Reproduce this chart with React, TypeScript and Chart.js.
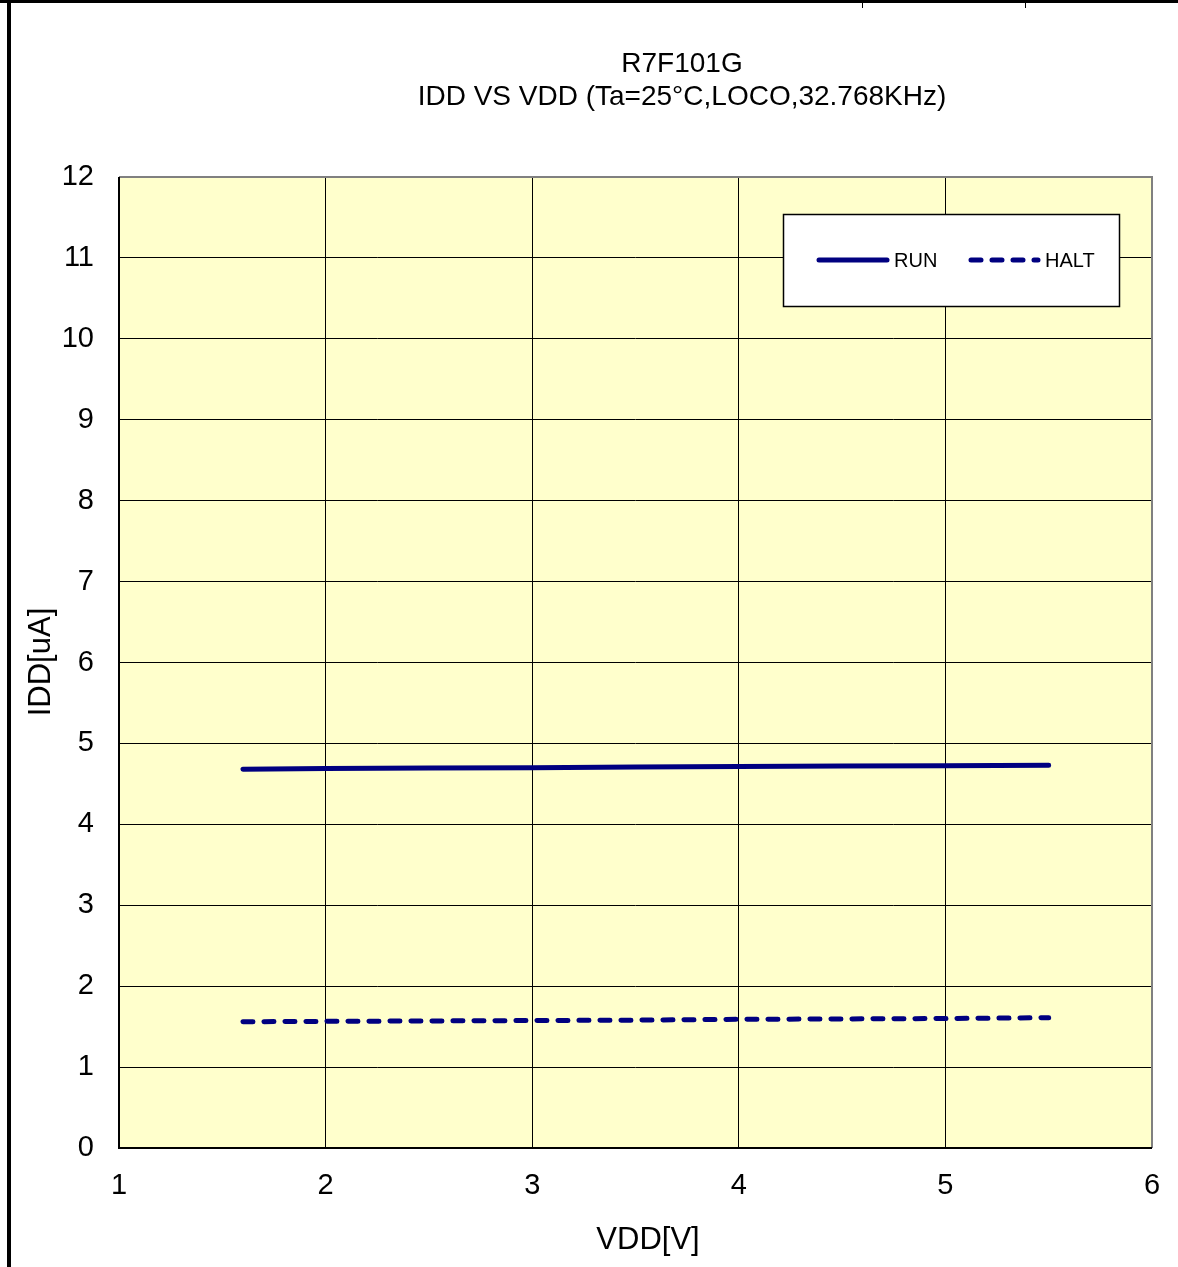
import React, { useEffect, useRef } from "react";
import { Chart, registerables } from "chart.js";

Chart.register(...registerables);

const titleLines = ["R7F101G", "IDD VS VDD (Ta=25°C,LOCO,32.768KHz)"];
const xAxisTitle = "VDD[V]";
const yAxisTitle = "IDD[uA]";

const vdd = [1.6, 2.0, 2.5, 3.0, 3.5, 4.0, 4.5, 5.0, 5.5];
const runIdd = [4.68, 4.69, 4.695, 4.70, 4.71, 4.715, 4.72, 4.725, 4.73];
const haltIdd = [1.56, 1.565, 1.57, 1.575, 1.58, 1.59, 1.595, 1.60, 1.61];

const seriesNames = ["RUN", "HALT"];
const xMin = 1, xMax = 6, yMin = 0, yMax = 12;

const FONT = "'Liberation Sans', Arial, sans-serif";
const NAVY = "#000080";

const decorPlugin = {
  id: "decor",
  beforeDraw(chart: any) {
    const { ctx, chartArea } = chart;
    ctx.save();
    ctx.fillStyle = "#ffffff";
    ctx.fillRect(0, 0, chart.width, chart.height);
    ctx.fillStyle = "#FFFFCC";
    ctx.fillRect(chartArea.left, chartArea.top, chartArea.right - chartArea.left, chartArea.bottom - chartArea.top);
    ctx.restore();
  },
  afterDatasetsDraw(chart: any) {
    const { ctx, chartArea } = chart;
    const { left, right, top, bottom } = chartArea;
    ctx.save();
    // plot border
    ctx.lineWidth = 2;
    ctx.strokeStyle = "#808080";
    ctx.beginPath();
    ctx.moveTo(left, top);
    ctx.lineTo(right, top);
    ctx.lineTo(right, bottom);
    ctx.stroke();
    ctx.strokeStyle = "#000";
    ctx.beginPath();
    ctx.moveTo(left, top);
    ctx.lineTo(left, bottom);
    ctx.lineTo(right, bottom);
    ctx.stroke();

    // outer frame
    ctx.fillStyle = "#000";
    ctx.fillRect(0, 0, chart.width, 3);
    ctx.fillRect(7, 0, 4, chart.height);
    ctx.fillRect(862, 0, 1, 8);
    ctx.fillRect(1025, 0, 1, 8);

    // titles
    ctx.fillStyle = "#000";
    ctx.textAlign = "center";
    ctx.textBaseline = "middle";
    ctx.font = `28px ${FONT}`;
    ctx.fillText(titleLines[0], 682, 64);
    ctx.fillText(titleLines[1], 682, 97);

    ctx.font = `31px ${FONT}`;
    ctx.fillText(xAxisTitle, 648, 1240);
    ctx.save();
    ctx.translate(41, 662);
    ctx.rotate(-Math.PI / 2);
    ctx.fillText(yAxisTitle, 0, 0);
    ctx.restore();

    // legend
    const lx = 783, ly = 214, lw = 336, lh = 92;
    ctx.fillStyle = "#fff";
    ctx.fillRect(lx, ly, lw, lh);
    ctx.lineWidth = 1.5;
    ctx.strokeStyle = "#000";
    ctx.strokeRect(lx + 0.5, ly + 0.5, lw, lh);
    const cy = ly + 46;
    ctx.strokeStyle = NAVY;
    ctx.lineWidth = 5;
    ctx.lineCap = "round";
    ctx.beginPath();
    ctx.moveTo(819, cy);
    ctx.lineTo(887, cy);
    ctx.stroke();
    ctx.setLineDash([10, 11]);
    ctx.beginPath();
    ctx.moveTo(971, cy);
    ctx.lineTo(1038, cy);
    ctx.stroke();
    ctx.setLineDash([]);
    ctx.fillStyle = "#000";
    ctx.textAlign = "left";
    ctx.font = `20px ${FONT}`;
    ctx.fillText(seriesNames[0], 894, cy + 1);
    ctx.fillText(seriesNames[1], 1045, cy + 1);
    ctx.restore();
  },
};

export default function App() {
  const ref = useRef<HTMLCanvasElement | null>(null);
  useEffect(() => {
    document.body.style.margin = "0";
    const canvas = ref.current;
    if (!canvas) return;
    const chart = new Chart(canvas, {
      type: "line",
      data: {
        datasets: [
          {
            label: seriesNames[0],
            data: vdd.map((x, i) => ({ x, y: runIdd[i] })),
            borderColor: NAVY,
            borderWidth: 5,
            pointRadius: 0,
            borderCapStyle: "round",
            tension: 0,
          },
          {
            label: seriesNames[1],
            data: vdd.map((x, i) => ({ x, y: haltIdd[i] })),
            borderColor: NAVY,
            borderWidth: 5,
            pointRadius: 0,
            borderDash: [10, 11],
            borderCapStyle: "round",
            tension: 0,
          },
        ],
      },
      options: {
        animation: false,
        responsive: false,
        devicePixelRatio: 1,
        layout: { padding: { top: 177, right: 26, left: 0, bottom: 0 } },
        plugins: { legend: { display: false }, title: { display: false }, tooltip: { enabled: false } },
        scales: {
          x: {
            type: "linear",
            min: xMin,
            max: xMax,
            afterFit(scale: any) {
              scale.height = 119;
              scale.paddingLeft = 0;
              scale.paddingRight = 0;
            },
            border: { display: false },
            grid: { color: "#000", lineWidth: 1, drawTicks: false },
            ticks: { stepSize: 1, padding: 21, color: "#000", font: { family: FONT, size: 29 } },
          },
          y: {
            min: yMin,
            max: yMax,
            afterFit(scale: any) {
              scale.width = 119;
              scale.paddingTop = 0;
              scale.paddingBottom = 0;
            },
            border: { display: false },
            grid: { color: "#000", lineWidth: 1, drawTicks: false },
            ticks: { stepSize: 1, padding: 25, color: "#000", font: { family: FONT, size: 29 } },
          },
        },
      },
      plugins: [decorPlugin],
    } as any);
    return () => chart.destroy();
  }, []);
  return <canvas ref={ref} width={1178} height={1267} style={{ display: "block" }} />;
}
